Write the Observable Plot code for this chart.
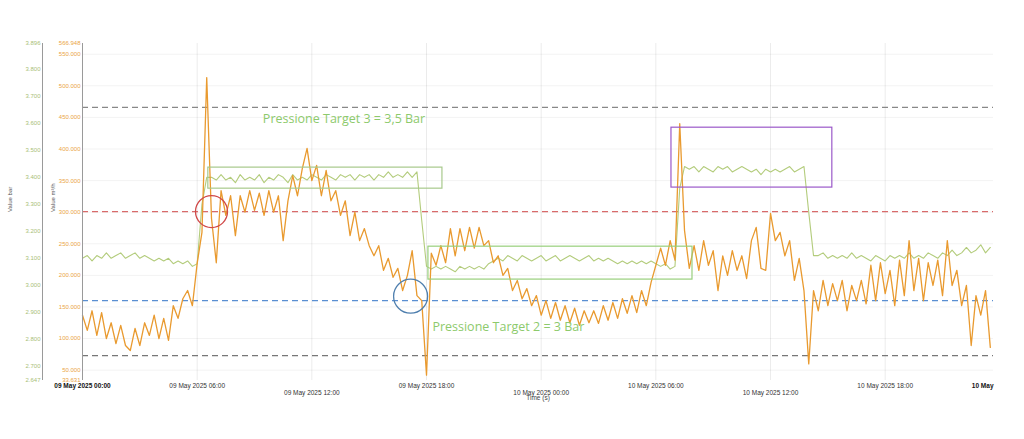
<!DOCTYPE html>
<html><head><meta charset="utf-8">
<script src="https://cdn.jsdelivr.net/npm/d3@7"></script>
<script src="https://cdn.jsdelivr.net/npm/@observablehq/plot@0.6"></script>
<style>body{margin:0;background:#fff}</style>
</head><body><div id="chart"></div>
<script>
// ---- data ----
const sampleStart = "2025-05-09T00:00:00Z";
const sampleStepMinutes = 15;
const domainStart = "2025-05-09T00:00:00Z";
const domainEnd = "2025-05-10T23:40:00Z";

// Flow (m³/h), one reading per 15 minutes
const flowValues = [
137,113,144,105,141,100,125,92,121,89,
81,116,89,125,105,137,100,132,97,152,
132,163,176,152,219,268,513,290,220,334,
295,326,263,326,300,334,303,330,295,334,
300,326,255,318,358,326,369,401,350,374,
326,366,318,334,295,318,263,300,255,274,
247,231,247,208,227,197,211,176,200,239,
168,160,42,235,216,247,220,274,231,274,
239,276,243,276,247,255,220,231,200,211,
176,192,163,179,152,168,137,160,132,157,
129,152,125,148,121,144,125,144,124,152,
129,157,132,163,140,168,141,176,152,189,
216,243,216,255,224,440,271,211,247,208,
255,216,239,176,231,200,239,208,231,195,
255,276,211,208,298,255,268,231,255,192,
227,176,60,176,144,192,152,187,160,192,
144,184,160,192,155,216,160,220,171,208,
152,224,168,255,176,227,160,220,184,224,
168,255,184,208,152,184,89,168,137,176,
86
];

// Pressure (bar), one reading per 15 minutes
const pressureValues = [
3.10,3.11,3.09,3.11,3.10,3.12,3.10,3.11,3.12,3.10,3.11,3.12,3.10,3.11,3.10,3.09,3.10,3.09,3.10,3.08,3.09,3.08,3.09,3.07,3.08,
3.30,3.40,
3.40,3.39,3.41,3.39,3.40,3.38,3.41,3.39,3.40,3.39,3.41,
3.38,3.40,3.39,3.41,3.40,3.38,3.41,3.39,3.40,3.39,3.41,
3.40,3.39,3.41,3.40,3.39,3.41,3.40,3.41,3.39,3.41,3.40,
3.41,3.39,3.41,3.40,3.42,3.40,3.41,3.40,3.42,3.40,3.42,
3.24,3.07,
3.06,3.07,3.06,3.07,3.06,3.05,3.07,3.06,3.07,3.06,3.07,3.06,3.08,
3.09,3.10,3.09,3.11,3.10,3.09,3.11,3.10,3.09,3.10,
3.11,3.09,3.10,3.11,3.09,3.10,3.11,3.10,3.09,3.10,
3.11,3.09,3.10,3.09,3.10,3.09,3.08,3.09,3.08,3.09,
3.08,3.09,3.08,3.09,
3.08,3.07,3.08,3.06,3.07,
3.36,3.44,
3.43,3.44,3.42,3.44,3.43,3.42,3.44,3.43,3.44,3.42,3.43,3.44,3.43,3.42,3.43,3.41,3.43,3.42,3.43,3.42,3.43,3.44,3.42,3.43,3.44,
3.27,3.11,
3.11,3.12,3.10,3.11,3.10,3.11,3.10,3.12,3.10,3.11,
3.10,3.09,3.11,3.10,3.09,3.11,3.10,3.11,3.10,3.12,
3.10,3.11,3.10,3.12,3.11,3.10,3.12,3.11,3.13,3.11,
3.12,3.14,3.12,3.13,3.15,3.12,3.14
];

// axis ranges and ticks
const flowMin = 33.631, flowMax = 566.948;
const pressureMin = 2.647, pressureMax = 3.896;
const flowTicks = [33.631, 50, 100, 150, 200, 250, 300, 350, 400, 450, 500, 550, 566.948];
const flowGridTicks = [50, 100, 150, 200, 250, 300, 350, 400, 450, 500, 550];
const pressureTicks = [2.647, 2.7, 2.8, 2.9, 3.0, 3.1, 3.2, 3.3, 3.4, 3.5, 3.6, 3.7, 3.8, 3.896];
const timeGridTicks = ["2025-05-09T06:00Z","2025-05-09T12:00Z","2025-05-09T18:00Z","2025-05-10T00:00Z","2025-05-10T06:00Z","2025-05-10T12:00Z","2025-05-10T18:00Z"];
const timeTicksUpper = ["2025-05-09T06:00Z","2025-05-09T18:00Z","2025-05-10T06:00Z","2025-05-10T18:00Z"];
const timeTicksLower = ["2025-05-09T12:00Z","2025-05-10T00:00Z","2025-05-10T12:00Z"];
const boldStartLabel = "09 May 2025 00:00";
const boldEndLabel = "10 May";

// reference (threshold) lines, in m³/h
const refLevels = [466, 301, 160, 73];
const refColors = ["#888888", "#d86a6a", "#5a8fd2", "#777777"];

// annotations
const boxStarts = ["2025-05-09T06:35Z", "2025-05-09T18:06Z", "2025-05-10T06:49Z"];
const boxEnds = ["2025-05-09T18:50Z", "2025-05-10T07:55Z", "2025-05-10T15:14Z"];
const boxLow = [3.358, 3.021, 3.362];   // bar
const boxHigh = [3.436, 3.143, 3.584];  // bar
const boxColors = ["#a8c98c", "#98cf7c", "#9b59c9"];

const circleTimes = ["2025-05-09T06:45Z", "2025-05-09T17:10Z"];
const circleFlows = [301, 167];
const circleColors = ["#d04848", "#4f7fae"];
const circleRadius = [16, 17];

const noteTexts = ["Pressione Target 3 = 3,5 Bar", "Pressione Target 2 = 3 Bar"];
const noteTimes = ["2025-05-09T13:41Z", "2025-05-09T22:17Z"];
const noteFlows = [447, 119];

// ---- build ----
const toFlow = p => flowMin + (p - pressureMin) / (pressureMax - pressureMin) * (flowMax - flowMin);
const t0 = Date.parse(sampleStart);
const times = flowValues.map((_, i) => new Date(t0 + i * sampleStepMinutes * 60000));
const flowData = flowValues.map((v, i) => ({time: times[i], flow: v}));
const pressureData = pressureValues.map((v, i) => ({time: times[i], pressure: v}));
const refData = refLevels.map((v, i) => ({flow: v, color: refColors[i]}));
const boxes = boxStarts.map((s, i) => ({x1: new Date(s), x2: new Date(boxEnds[i]), p1: boxLow[i], p2: boxHigh[i], color: boxColors[i]}));
const circles = circleTimes.map((t, i) => ({time: new Date(t), flow: circleFlows[i], color: circleColors[i], r: circleRadius[i]}));
const notes = noteTexts.map((t, i) => ({text: t, time: new Date(noteTimes[i]), flow: noteFlows[i]}));
const xStart = new Date(domainStart), xEnd = new Date(domainEnd);
const fmtTime = d3.utcFormat("%d %b %Y %H:%M");
const fmt3 = d3.format(".3f");

const chart = Plot.plot({
  width: 1024, height: 439,
  marginLeft: 82, marginRight: 31, marginTop: 43, marginBottom: 59,
  style: {fontFamily: "'Liberation Sans', Arial, sans-serif", fontSize: "6.5px", background: "#fff", overflow: "visible"},
  x: {type: "utc", domain: [xStart, xEnd], axis: null},
  y: {domain: [flowMin, flowMax], axis: null},
  marks: [
    Plot.gridY(flowGridTicks, {stroke: "#000", strokeOpacity: 0.05}),
    Plot.gridX(timeGridTicks.map(d => new Date(d)), {stroke: "#000", strokeOpacity: 0.08}),
    Plot.ruleY(refData, {y: "flow", stroke: "color", strokeDasharray: "6,4", strokeWidth: 1.3}),
    Plot.line(pressureData, {x: "time", y: d => toFlow(d.pressure), stroke: "#b3cc7c", strokeWidth: 1.1}),
    Plot.line(flowData, {x: "time", y: "flow", stroke: "#e99a2f", strokeWidth: 1.3}),
    Plot.rect(boxes, {x1: "x1", x2: "x2", y1: d => toFlow(d.p1), y2: d => toFlow(d.p2), stroke: "color", fill: "none", strokeWidth: 1.2}),
    Plot.dot(circles.slice(0, 1), {x: "time", y: "flow", r: circleRadius[0], stroke: "color", strokeWidth: 1.3}),
    Plot.dot(circles.slice(1, 2), {x: "time", y: "flow", r: circleRadius[1], stroke: "color", strokeWidth: 1.3}),
    Plot.text(notes, {x: "time", y: "flow", text: "text", fill: "#8dca6c", fontSize: 12.5, fontFamily: "'Open Sans', sans-serif"}),
    Plot.ruleX([xStart], {stroke: "#9a9a9a"}),
    Plot.ruleX([xStart], {stroke: "#9a9a9a", dx: -40}),
    Plot.axisY(flowTicks, {anchor: "left", tickSize: 0, tickPadding: 2, tickFormat: fmt3, color: "#eaa444", label: null, fontSize: 6}),
    Plot.text(pressureTicks, {y: d => toFlow(d), text: d => fmt3(d), frameAnchor: "left", dx: -42, textAnchor: "end", fill: "#a9c077", fontSize: 6}),
    Plot.text(["Value bar"], {text: d => d, frameAnchor: "left", dx: -72, rotate: -90, fill: "#555", fontSize: 6}),
    Plot.text(["Value m³/h"], {text: d => d, frameAnchor: "left", dx: -29, rotate: -90, fill: "#555", fontSize: 6}),
    Plot.text(timeTicksUpper.map(d => new Date(d)), {x: d => d, text: d => fmtTime(d), frameAnchor: "bottom", dy: 7, fill: "#333"}),
    Plot.text(timeTicksLower.map(d => new Date(d)), {x: d => d, text: d => fmtTime(d), frameAnchor: "bottom", dy: 14, fill: "#333"}),
    Plot.text([xStart], {x: d => d, text: () => boldStartLabel, frameAnchor: "bottom", dy: 7, fill: "#111", fontWeight: "bold"}),
    Plot.text([xEnd], {x: d => d, text: () => boldEndLabel, frameAnchor: "bottom", dy: 7, textAnchor: "end", fill: "#111", fontWeight: "bold"}),
    Plot.text(["Time (s)"], {text: d => d, frameAnchor: "bottom", dy: 19, fill: "#444"})
  ]
});
document.getElementById("chart").appendChild(chart);
</script>
</body></html>
